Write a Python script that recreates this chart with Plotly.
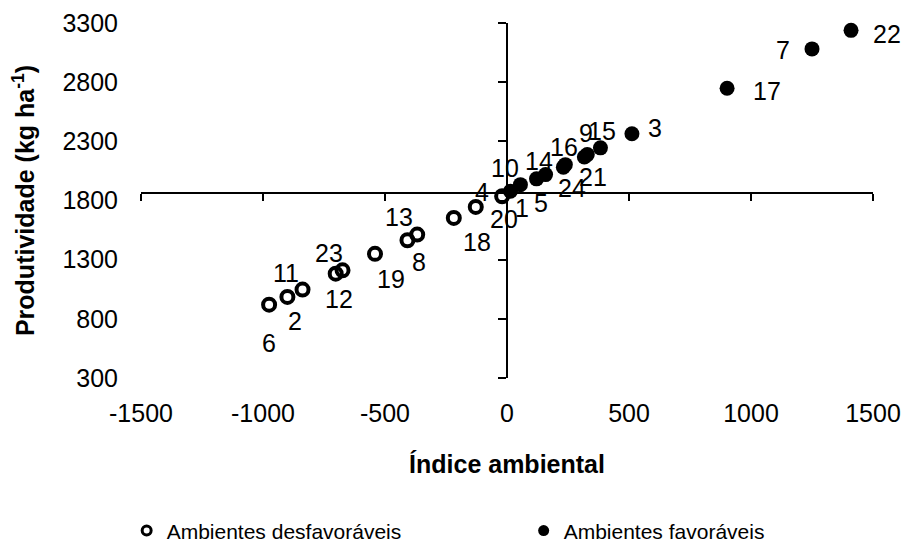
import plotly.graph_objects as go

# ---------------- data ----------------
env_unfav = ["6", "2", "11", "23", "12", "19", "13", "8", "18", "4", "20"]
idx_unfav = [-975, -900, -838, -702, -674, -541, -408, -368, -218, -128, -20]
yld_unfav = [920, 985, 1047, 1182, 1210, 1349, 1464, 1512, 1653, 1746, 1836]

env_fav = ["10", "1", "14", "5", "24", "16", "21", "9", "15", "3", "17", "7", "22"]
idx_fav = [14, 55, 121, 158, 231, 239, 317, 329, 383, 512, 902, 1250, 1410]
yld_fav = [1878, 1934, 1983, 2019, 2082, 2103, 2167, 2188, 2245, 2364, 2748, 3081, 3238]

mean_yield = 1864
x_ticks = [-1500, -1000, -500, 0, 500, 1000, 1500]
x_ticktext = ["-1500", "-1000", "-500", "0", "500", "1000", "1500"]
y_ticks = [300, 800, 1300, 1800, 2300, 2800, 3300]

# label offsets in pixels (dx, dy up)
label_offsets = {
    "6": (0, -38), "2": (8, -24), "11": (-17, 17), "23": (-7, 21), "12": (-4, -29),
    "19": (16, -25), "13": (-8, 23), "8": (2, -27), "18": (23, -24), "4": (6, 15),
    "20": (2, -23), "10": (-5, 23), "1": (2, -23), "14": (2, 18), "5": (-5, -28),
    "24": (9, -21), "16": (-1, 18), "21": (9, -20), "9": (-1, 22), "15": (2, 17),
    "3": (23, 6), "17": (40, -3), "7": (-29, -1), "22": (36, -4),
}

FONT = "Arial, Liberation Sans, sans-serif"
fig = go.Figure()

fig.add_trace(go.Scatter(
    x=idx_unfav, y=yld_unfav, mode="markers", showlegend=False,
    marker=dict(symbol="circle-open", size=12, color="black", line=dict(width=4, color="black")),
    cliponaxis=False))
fig.add_trace(go.Scatter(
    x=idx_fav, y=yld_fav, mode="markers", showlegend=False,
    marker=dict(symbol="circle", size=15, color="black"), cliponaxis=False))

# legend entries
fig.add_trace(go.Scatter(x=[None], y=[None], mode="markers", name="Ambientes desfavoráveis",
                         marker=dict(symbol="circle-open", size=9, color="black", line=dict(width=3, color="black"))))
fig.add_trace(go.Scatter(x=[None], y=[None], mode="markers", name="Ambientes favoráveis",
                         marker=dict(symbol="circle", size=11, color="black")))

# helper trace for crossing axes
fig.add_trace(go.Scatter(x=[None], y=[None], xaxis="x2", yaxis="y2", showlegend=False, hoverinfo="skip"))

for envs, xs, ys in ((env_unfav, idx_unfav, yld_unfav), (env_fav, idx_fav, yld_fav)):
    for e, xv, yv in zip(envs, xs, ys):
        dx, dy = label_offsets[e]
        fig.add_annotation(x=xv, y=yv, text=e, showarrow=False, xshift=dx, yshift=dy,
                           font=dict(family=FONT, size=25, color="black"))

ypos_cross = (mean_yield - 300) / 3000

fig.update_layout(
    width=905, height=545,
    margin=dict(l=141, r=32, t=23, b=167, autoexpand=False),
    paper_bgcolor="white", plot_bgcolor="white",
    font=dict(family=FONT, size=25, color="black"),
    xaxis=dict(range=[-1500, 1500], tickvals=x_ticks, ticktext=x_ticktext, showgrid=False,
               zeroline=False, showline=False, ticks="", tickfont=dict(size=25),
               ticklabelstandoff=18, automargin=False,
               title=dict(text="<b>Índice ambiental</b>", font=dict(size=25), standoff=29)),
    yaxis=dict(range=[300, 3300], tickvals=y_ticks, showgrid=False, zeroline=False,
               showline=False, ticks="", tickfont=dict(size=25), ticklabelstandoff=22,
               automargin=False,
               title=dict(text="<b>Produtividade (kg ha<sup>-1</sup>)</b>", font=dict(size=25), standoff=20)),
    xaxis2=dict(range=[-1500, 1500], overlaying="x", anchor="free", position=ypos_cross,
                tickvals=[-1500, -1000, -500, 500, 1000, 1500], ticks="outside", ticklen=7,
                tickwidth=2, tickcolor="black", showline=True, linewidth=2, linecolor="black",
                showticklabels=False, showgrid=False, zeroline=False, automargin=False),
    yaxis2=dict(range=[300, 3300], overlaying="y", anchor="free", position=0.5,
                tickvals=y_ticks, ticks="outside", ticklen=8, tickwidth=2, tickcolor="black",
                showline=True, linewidth=2, linecolor="black", showticklabels=False,
                showgrid=False, zeroline=False, automargin=False),
    legend=dict(orientation="h", x=-0.0196, xanchor="left", y=-0.4885, yanchor="bottom",
                font=dict(size=21), entrywidth=352, itemwidth=30, tracegroupgap=0),
)

fig.write_html("out.html", config={"displayModeBar": False},
               post_script="document.body.style.margin='0px';")
